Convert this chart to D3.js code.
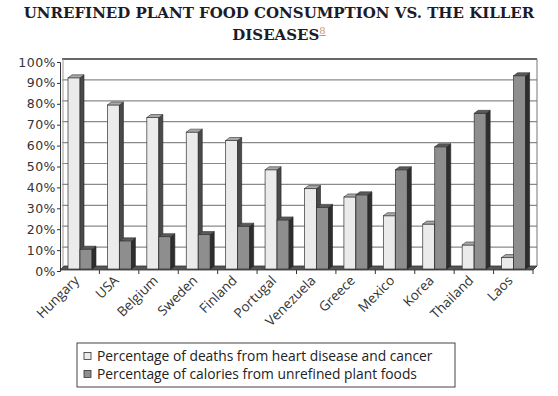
<!DOCTYPE html>
<html>
<head>
<meta charset="utf-8">
<script src="https://cdn.jsdelivr.net/npm/d3@7"></script>
<style>
  body { margin: 0; background: #fff; }
  svg { display: block; }
</style>
</head>
<body>
<svg id="chart" width="558" height="396"></svg>
<script>
// data
var countries = ['Hungary', 'USA', 'Belgium', 'Sweden', 'Finland', 'Portugal',
  'Venezuela', 'Greece', 'Mexico', 'Korea', 'Thailand', 'Laos'];
var deaths = [91, 78, 72, 65, 61, 47, 38, 34, 25, 21, 11, 5];
var calories = [9, 13, 15, 16, 20, 23, 29, 35, 47, 58, 74, 92];
var seriesNames = ['Percentage of deaths from heart disease and cancer',
  'Percentage of calories from unrefined plant foods'];
var yTicks = [0, 10, 20, 30, 40, 50, 60, 70, 80, 90, 100];

var svg = d3.select('#chart');
var pLeft = 62, pRight = 535, pTop = 59, pBottom = 268
  , dx = 4, dy = 3
  , barW = 12
  ;

var x0 = d3.scaleBand().domain(countries).range([pLeft, pRight]);
var x1 = d3.scaleBand().domain([0, 1]).range([6, 6 + 2 * barW]);
var y = d3.scaleLinear().domain([0, 100]).range([pBottom, pTop]);

var fills = [
  {front: '#ebebeb', side: '#4a4a4a', top: '#a8a8a8'},
  {front: '#8e8e8e', side: '#2e2e2e', top: '#5a5a5a'}
];

// title
svg.append('text')
    .attr('x', 279).attr('y', 18)
    .attr('text-anchor', 'middle')
    .style('font', 'bold 15px "DejaVu Serif"')
    .style('fill', '#1c1c28')
    .text('UNREFINED PLANT FOOD CONSUMPTION VS. THE KILLER');
var t2 = svg.append('text')
    .attr('x', 279).attr('y', 40)
    .attr('text-anchor', 'middle')
    .style('font', 'bold 15px "DejaVu Serif"')
    .style('fill', '#1c1c28');
t2.append('tspan').text('DISEASES');
t2.append('tspan')
    .attr('dy', -6)
    .style('font-size', '10px').style('font-weight', 'normal')
    .style('fill', '#c8956a').style('text-decoration', 'underline')
    .text('8');

// back wall gridlines
var plot = svg.append('g');
plot.selectAll('.grid')
    .data(yTicks.slice(1, -1))
  .enter().append('line')
    .attr('x1', pLeft).attr('x2', pRight + 2)
    .attr('y1', function (d) { return y(d); })
    .attr('y2', function (d) { return y(d); })
    .style('stroke', '#8a8a8a').style('stroke-width', 1.2);

plot.append('line')
    .attr('x1', pLeft).attr('x2', pRight + 2)
    .attr('y1', pTop).attr('y2', pTop)
    .style('stroke', '#666').style('stroke-width', 2);
plot.append('line')
    .attr('x1', pRight + 2).attr('x2', pRight + 2)
    .attr('y1', pTop).attr('y2', pBottom - 2)
    .style('stroke', '#777').style('stroke-width', 1);
plot.append('line')
    .attr('x1', pLeft + 1).attr('x2', pLeft + 1)
    .attr('y1', pTop).attr('y2', pBottom)
    .style('stroke', '#999').style('stroke-width', 1);

// floor
plot.append('path')
    .attr('d', 'M' + (pLeft - 2) + ',' + (pBottom + 2) + 'L' + (pRight - 2) + ',' + (pBottom + 2)
      + 'L' + (pRight + 2) + ',' + (pBottom - 2) + 'L' + (pLeft + 2) + ',' + (pBottom - 2) + 'Z')
    .style('fill', '#555').style('stroke', '#333').style('stroke-width', 0.8);

// bars
var groups = plot.selectAll('.group')
    .data(countries)
  .enter().append('g')
    .attr('transform', function (d) { return 'translate(' + x0(d) + ',0)'; });

var bar = groups.selectAll('.bar')
    .data(function (d, i) {
      return [{s: 0, v: deaths[i]}, {s: 1, v: calories[i]}];
    })
  .enter().append('g');

bar.append('rect')
    .attr('x', function (d) { return x1(d.s); })
    .attr('y', function (d) { return y(d.v); })
    .attr('width', barW)
    .attr('height', function (d) { return pBottom + 1 - y(d.v); })
    .style('fill', function (d) { return fills[d.s].front; })
    .style('stroke', '#333').style('stroke-width', 0.7);

bar.append('path')
    .attr('d', function (d) {
      var a = x1(d.s) + barW, b = y(d.v);
      return 'M' + a + ',' + b + 'L' + (a + dx) + ',' + (b - dy)
        + 'L' + (a + dx) + ',' + (pBottom + 1 - dy) + 'L' + a + ',' + (pBottom + 1) + 'Z';
    })
    .style('fill', function (d) { return fills[d.s].side; })
    .style('stroke', '#222').style('stroke-width', 0.6);

bar.append('path')
    .attr('d', function (d) {
      var a = x1(d.s), b = y(d.v);
      return 'M' + a + ',' + b + 'L' + (a + dx) + ',' + (b - dy)
        + 'L' + (a + barW + dx) + ',' + (b - dy) + 'L' + (a + barW) + ',' + b + 'Z';
    })
    .style('fill', function (d) { return fills[d.s].top; })
    .style('stroke', '#333').style('stroke-width', 0.6);

// front y axis
var yAxis = svg.append('g')
    .attr('transform', 'translate(' + (pLeft - 2) + ',3)')
    .call(d3.axisLeft(y).tickValues(yTicks).tickSize(3)
      .tickFormat(function (d) { return d + '%'; }));
yAxis.select('.domain').style('stroke', '#333');
yAxis.selectAll('line').style('stroke', '#333');
yAxis.selectAll('text')
    .attr('x', -4)
    .style('font', '12.5px "DejaVu Sans"')
    .style('letter-spacing', '0.5px')
    .style('fill', '#333');

// x ticks at band edges
svg.selectAll('.xtick')
    .data(countries)
  .enter().append('line')
    .attr('x1', function (d) { return x0(d) + x0.bandwidth() - 2; })
    .attr('x2', function (d) { return x0(d) + x0.bandwidth() - 2; })
    .attr('y1', pBottom + 2).attr('y2', pBottom + 6)
    .style('stroke', '#333');

// rotated country labels
svg.selectAll('.xlabel')
    .data(countries)
  .enter().append('text')
    .attr('transform', function (d) {
      return 'translate(' + (x0(d) + x0.bandwidth() / 2 - 5) + ',' + (pBottom + 10) + ') rotate(-45)';
    })
    .attr('text-anchor', 'end')
    .attr('dy', '0.35em')
    .style('font', '13.5px "Open Sans"')
    .style('fill', '#333')
    .text(function (d) { return d; });

// legend
var legend = svg.append('g').attr('transform', 'translate(77,343)');
legend.append('rect')
    .attr('width', 378).attr('height', 44)
    .style('fill', '#fff').style('stroke', '#444').style('stroke-width', 1);
var item = legend.selectAll('.item')
    .data(seriesNames)
  .enter().append('g')
    .attr('transform', function (d, i) { return 'translate(7,' + (13 + i * 18) + ')'; });
item.append('rect')
    .attr('x', 0).attr('y', -3.5).attr('width', 7).attr('height', 7)
    .style('fill', function (d, i) { return fills[i].front; })
    .style('stroke', '#333').style('stroke-width', 0.8);
item.append('text')
    .attr('x', 13).attr('dy', '0.35em')
    .style('font', '13.8px "Open Sans"')
    .style('fill', '#222')
    .text(function (d) { return d; });
</script>
</body>
</html>
